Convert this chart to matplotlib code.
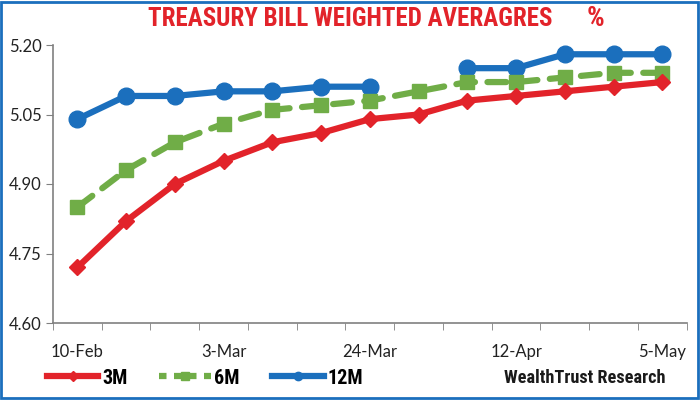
import numpy as np
import matplotlib
matplotlib.use("Agg")
import matplotlib.pyplot as plt
from matplotlib import font_manager
from matplotlib.lines import Line2D
from matplotlib.patches import Rectangle

# Data (weekly auctions)
dates = ['10-Feb', '', '', '3-Mar', '', '', '24-Mar', '', '', '12-Apr', '', '', '5-May']
bill_3m = [4.72, 4.82, 4.90, 4.95, 4.99, 5.01, 5.04, 5.05, 5.08, 5.09, 5.10, 5.11, 5.12]
bill_6m = [4.85, 4.93, 4.99, 5.03, 5.06, 5.07, 5.08, 5.10, 5.12, 5.12, 5.13, 5.14, 5.14]
bill_12m = [5.04, 5.09, 5.09, 5.10, 5.10, 5.11, 5.11, np.nan, 5.15, 5.15, 5.18, 5.18, 5.18]
yticks = [4.60, 4.75, 4.90, 5.05, 5.20]

red = '#e2232a'
green = '#70ad47'
blue = '#1b6fbd'

# condensed bold face for the title / legend, if one is installed
installed = {f.name for f in font_manager.fontManager.ttflist}
cond_family = 'Roboto'
for fam in ['Roboto Condensed', 'Barlow Condensed', 'Archivo Narrow', 'Asap Condensed']:
    if fam in installed:
        cond_family = fam
        break
bold_family = [cond_family, 'DejaVu Sans']

fig = plt.figure(figsize=(7, 4), dpi=100)
ax = fig.add_axes([0.0757, 0.1925, 0.9053, 0.695])

x = np.arange(len(dates))
ax.plot(x, bill_3m, color=red, lw=4.5, marker='D', ms=8, zorder=3)
ax.plot(x, bill_6m, color=green, lw=4.5, ls=(0, (3, 2)), marker='s', ms=10,
        dash_capstyle='round', zorder=2)
ax.plot(x, bill_12m, color=blue, lw=4.5, marker='o', ms=12, zorder=1)

ax.set_xlim(-0.5, len(dates) - 0.5)
ax.set_ylim(4.60, 5.20)
ax.set_yticks(yticks)
ax.set_yticklabels([f'{v:.2f}' for v in yticks], family='Lato', fontsize=12,
                   color='#222222')

# category labels in the middle, tick marks on the boundaries
ax.set_xticks(x)
ax.set_xticklabels(dates, family='Lato', fontsize=12, color='#222222')
ax.set_xticks(np.arange(len(dates) + 1) - 0.5, minor=True)
ax.tick_params(axis='x', which='major', length=0, pad=15)
ax.tick_params(axis='x', which='minor', length=5, color='#808080', direction='out')
ax.tick_params(axis='y', length=5, color='#808080', pad=3)

for s in ['top', 'right']:
    ax.spines[s].set_visible(False)
for s in ['left', 'bottom']:
    ax.spines[s].set_color('#808080')
    ax.spines[s].set_linewidth(1.2)


def fit_text(xc, yc, s, target_w, size, color, ha='center'):
    t = fig.text(xc, yc, s, color=color, family=bold_family, weight='bold',
                 fontsize=size, ha=ha, va='center')
    w = t.get_window_extent(fig.canvas.get_renderer()).width
    if w > target_w:
        t.set_fontsize(size * target_w / w)
    return t


fit_text(0.5, 0.9525, 'TREASURY BILL WEIGHTED AVERAGRES', 405, 20, red)
fit_text(0.851, 0.9525, '%', 18, 20, red)

handles = [
    Line2D([], [], color=red, lw=4.5, marker='D', ms=5),
    Line2D([], [], color=green, lw=4.5, ls=(0, (1.2, 1.2)), marker='s', ms=6),
    Line2D([], [], color=blue, lw=4.5, marker='o', ms=6),
]
leg = fig.legend(handles, ['3M', '6M', '12M'], loc='center left',
                 bbox_to_anchor=(0.067, 0.055), ncol=3, frameon=False,
                 borderpad=0, borderaxespad=0, handlelength=2.55,
                 handletextpad=0.18, columnspacing=1.6,
                 prop={'family': bold_family, 'weight': 'bold', 'size': 14.5})

fit_text(0.951, 0.055, 'WealthTrust Research', 162, 14, '#1a1a1a', ha='right')

# blue frame round the whole figure
fig.patches.append(Rectangle((0.002, 0.004), 0.995, 0.992, transform=fig.transFigure,
                             fill=False, edgecolor=blue, lw=2))

fig.savefig('out.png', dpi=100)
